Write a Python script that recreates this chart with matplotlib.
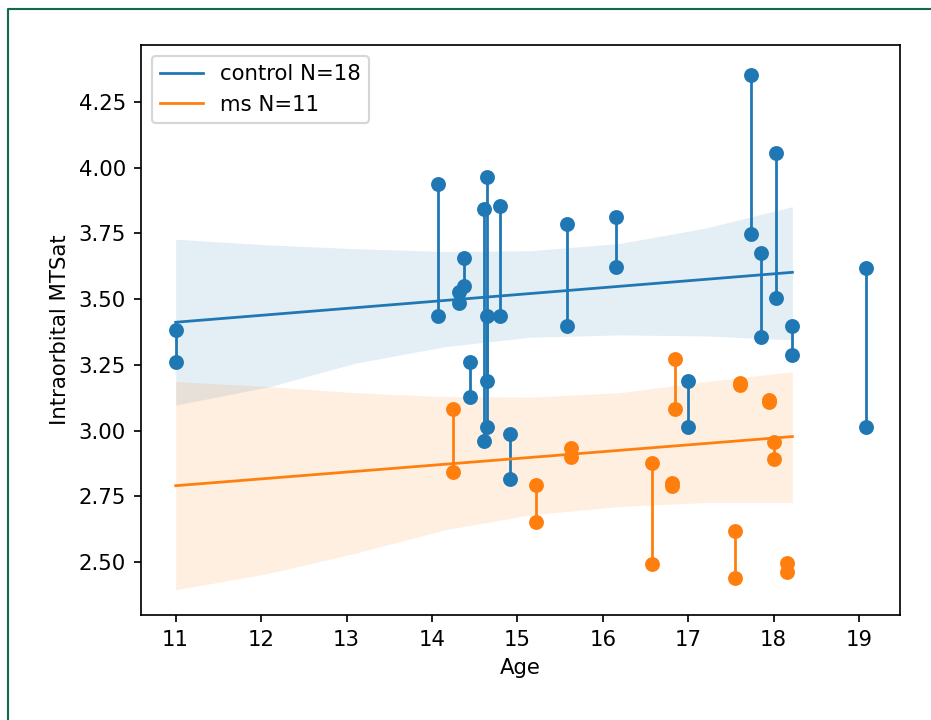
import matplotlib
matplotlib.use("Agg")
import matplotlib.pyplot as plt
from matplotlib.lines import Line2D

# paired measurements (two values per subject, joined by a vertical line)
control_age = [11.0, 14.07, 14.32, 14.375, 14.45, 14.613, 14.64, 14.64, 14.80,
               14.91, 15.58, 16.16, 17.0, 17.73, 17.85, 18.03, 18.22, 19.08]
control_a = [3.382, 3.937, 3.528, 3.655, 3.260, 3.842, 3.966, 3.435, 3.854,
             2.986, 3.785, 3.814, 3.190, 4.353, 3.677, 4.055, 3.399, 3.617]
control_b = [3.261, 3.437, 3.484, 3.550, 3.129, 2.960, 3.190, 3.015, 3.436,
             2.815, 3.398, 3.624, 3.015, 3.748, 3.355, 3.503, 3.288, 3.015]

ms_age = [14.25, 15.22, 15.63, 16.58, 16.81, 16.84, 17.55, 17.61, 17.95, 18.00, 18.16]
ms_a = [3.081, 2.793, 2.935, 2.876, 2.802, 3.271, 2.619, 3.182, 3.116, 2.955, 2.495]
ms_b = [2.844, 2.650, 2.900, 2.492, 2.789, 3.082, 2.438, 3.172, 3.110, 2.892, 2.463]

# regression lines (end points) and confidence bands
fit_x = [11.0, 18.22]
control_fit = [3.412, 3.602]
ms_fit = [2.790, 2.977]

band_x = [11.0, 12.1, 13.1, 14.15, 15.15, 16.2, 17.2, 18.22]
control_hi = [3.728, 3.706, 3.692, 3.681, 3.684, 3.712, 3.770, 3.852]
control_lo = [3.097, 3.167, 3.256, 3.319, 3.355, 3.364, 3.360, 3.345]
ms_hi = [3.186, 3.167, 3.144, 3.129, 3.127, 3.144, 3.186, 3.224]
ms_lo = [2.394, 2.457, 2.533, 2.622, 2.679, 2.711, 2.726, 2.726]

DPI = 153
fig = plt.figure(figsize=(931 / DPI, 720 / DPI), dpi=DPI)
ax = fig.add_axes([141 / 931, 1 - 615 / 720, (900 - 141) / 931, (615 - 45) / 720])

groups = [
    ("control N=18", "C0", control_age, control_a, control_b, control_fit, control_lo, control_hi),
    ("ms N=11", "C1", ms_age, ms_a, ms_b, ms_fit, ms_lo, ms_hi),
]

for label, col, age, ya, yb, fit, lo, hi in groups:
    for x, y1, y2 in zip(age, ya, yb):
        ax.plot([x, x], [y1, y2], "o-", color=col, markersize=6, linewidth=1.3)
    ax.plot(fit_x, fit, color=col, linewidth=1.3, label=label)
    ax.fill_between(band_x, lo, hi, color=col, alpha=0.12, linewidth=0)

ax.set_xlim(10.594, 19.48)
ax.set_ylim(2.298, 4.467)
ax.set_xticks(range(11, 20))
ax.set_yticks([2.5, 2.75, 3.0, 3.25, 3.5, 3.75, 4.0, 4.25])
ax.set_yticklabels(["2.50", "2.75", "3.00", "3.25", "3.50", "3.75", "4.00", "4.25"])
ax.set_xlabel("Age")
ax.set_ylabel("Intraorbital MTSat")
ax.legend(loc="upper left")

# green frame of the screenshot (left and top edges)
fx = 7.5 / 931
fy = 1 - 8.5 / 720
fig.add_artist(Line2D([fx, fx, 1.0], [0.0, fy, fy], transform=fig.transFigure,
                      color="#146b4c", linewidth=1.0))

fig.savefig("out.png", dpi=DPI)
